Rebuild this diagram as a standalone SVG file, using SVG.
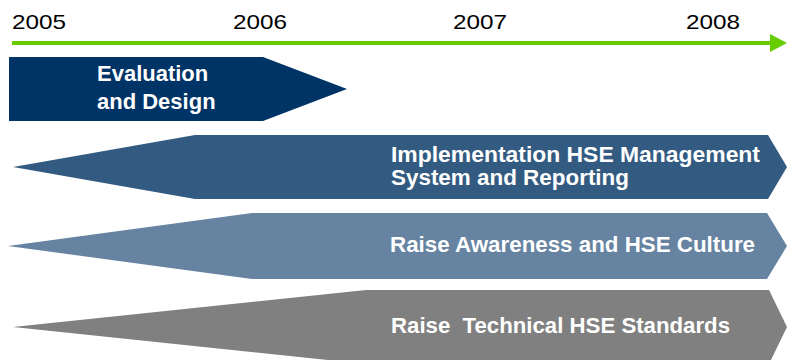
<svg xmlns="http://www.w3.org/2000/svg" width="790" height="360" viewBox="0 0 790 360">
  <style>
    .year { font-family: "Liberation Sans", Arial, sans-serif; font-size: 21px; fill: #000000; }
    .label { font-family: "Liberation Sans", Arial, sans-serif; font-size: 22px; font-weight: bold; fill: #ffffff; white-space: pre; }
    .axis { stroke: #66cc00; stroke-width: 4; fill: none; }
  </style>
  <defs>
    <marker id="axisHead" viewBox="0 0 17 18" refX="0" refY="9" markerWidth="17" markerHeight="18" markerUnits="userSpaceOnUse" orient="auto">
      <path d="M0,0 L17,9 L0,18 Z" fill="#66cc00"/>
    </marker>
  </defs>
  <rect width="790" height="360" fill="#ffffff"/>

  <!-- time axis -->
  <g id="connectors">
    <line class="axis" x1="12" y1="43" x2="770" y2="43" marker-end="url(#axisHead)"/>
  </g>

  <g id="years">
    <text class="year" x="12" y="28.5" textLength="54" lengthAdjust="spacingAndGlyphs">2005</text>
    <text class="year" x="233" y="28.5" textLength="54" lengthAdjust="spacingAndGlyphs">2006</text>
    <text class="year" x="453" y="28.5" textLength="54" lengthAdjust="spacingAndGlyphs">2007</text>
    <text class="year" x="686" y="28.5" textLength="54" lengthAdjust="spacingAndGlyphs">2008</text>
  </g>

  <g id="evaluation">
    <polygon points="9,57 263,57 347,89 263,121 9,121" fill="#003366"/>
    <text class="label" x="97" y="81">Evaluation</text>
    <text class="label" x="97" y="109">and Design</text>
  </g>

  <g id="implementation">
    <polygon points="13,167 195,135 768,135 787,167 768,199 195,199" fill="#335b81"/>
    <text class="label" x="391" y="162" textLength="369" lengthAdjust="spacingAndGlyphs">Implementation HSE Management</text>
    <text class="label" x="391" y="185" textLength="238" lengthAdjust="spacingAndGlyphs">System and Reporting</text>
  </g>

  <g id="awareness">
    <polygon points="8,246 252,213 767,213 787,246 767,279 252,279" fill="#6683a1"/>
    <text class="label" x="390" y="252" textLength="365" lengthAdjust="spacingAndGlyphs">Raise Awareness and HSE Culture</text>
  </g>

  <g id="technical">
    <polygon points="13,327 366,290 769,290 787,327 769,364 366,364" fill="#808080"/>
    <text class="label" x="391" y="333" xml:space="preserve" textLength="339" lengthAdjust="spacingAndGlyphs">Raise  Technical HSE Standards</text>
  </g>
</svg>
